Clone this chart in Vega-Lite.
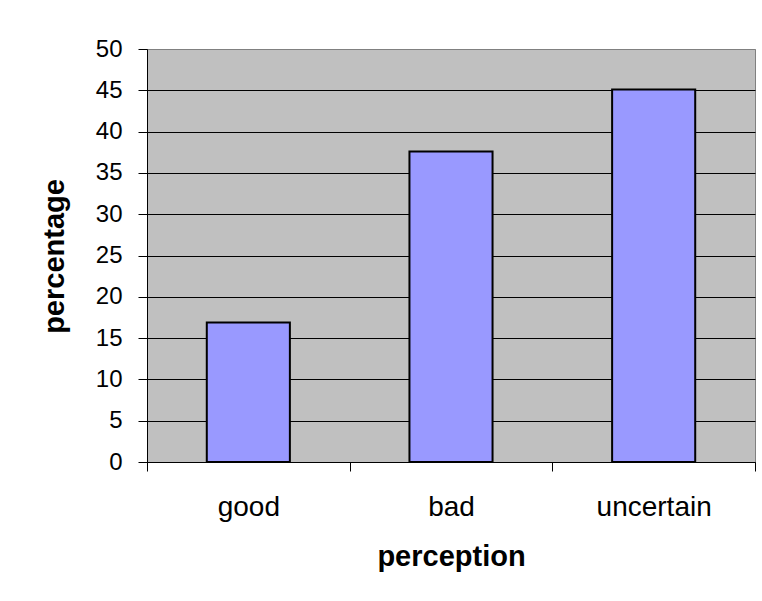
{
  "$schema": "https://vega.github.io/schema/vega-lite/v6.json",
  "width": 608,
  "height": 413,
  "autosize": {"type": "none"},
  "padding": {"left": 147, "top": 49, "right": 7, "bottom": 139},
  "background": "#ffffff",
  "config": {
    "font": "Liberation Sans",
    "view": {"fill": "#C0C0C0", "stroke": "#808080", "strokeWidth": 1}
  },
  "data": {
    "values": [
      {"perception": "good", "percentage": 16.9},
      {"perception": "bad", "percentage": 37.6},
      {"perception": "uncertain", "percentage": 45.1}
    ]
  },
  "mark": {"type": "bar", "width": {"band": 0.41}, "fill": "#9999FF", "stroke": "#000000", "strokeWidth": 2},
  "encoding": {
    "x": {
      "field": "perception",
      "type": "nominal",
      "sort": ["good", "bad", "uncertain"],
      "scale": {"paddingInner": 0, "paddingOuter": 0},
      "axis": {
        "title": "perception",
        "labelAngle": 0,
        "labelFont": "Liberation Sans",
        "labelFontSize": 28,
        "labelColor": "#000000",
        "labelPadding": 22,
        "tickBand": "extent",
        "tickSize": 9,
        "tickColor": "#000000",
        "domainColor": "#000000",
        "grid": false,
        "titleFont": "Liberation Sans",
        "titleFontSize": 29,
        "titleFontWeight": "bold",
        "titleColor": "#000000",
        "titleBaseline": "alphabetic",
        "titleX": 304,
        "titleY": 103
      }
    },
    "y": {
      "field": "percentage",
      "type": "quantitative",
      "scale": {"domain": [0, 50], "nice": false},
      "axis": {
        "title": "percentage",
        "values": [0, 5, 10, 15, 20, 25, 30, 35, 40, 45, 50],
        "labelFont": "Liberation Sans",
        "labelFontSize": 24,
        "labelColor": "#000000",
        "labelPadding": 16,
        "tickSize": 9,
        "tickColor": "#000000",
        "domainColor": "#000000",
        "grid": true,
        "gridColor": {"condition": {"test": "datum.value === 50", "value": "#808080"}, "value": "#000000"},
        "gridOpacity": 1,
        "titleFont": "Liberation Sans",
        "titleFontSize": 29,
        "titleFontWeight": "bold",
        "titleColor": "#000000",
        "titleAngle": -90,
        "titleBaseline": "alphabetic",
        "titleAlign": "center",
        "titleX": -84,
        "titleY": 207
      }
    }
  }
}
